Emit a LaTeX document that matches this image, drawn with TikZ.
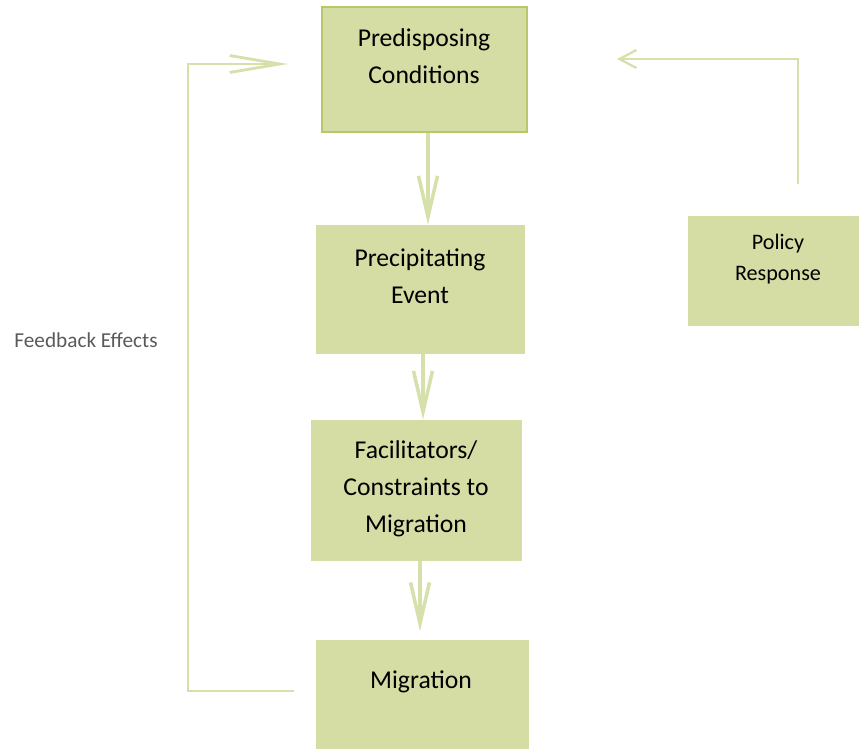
\documentclass[tikz,border=0pt]{standalone}
\usepackage{fontspec}
\setmainfont{Carlito}
\usepackage{tikz}
\usetikzlibrary{arrows.meta,positioning}
\usepackage{xcolor}
\definecolor{boxfill}{RGB}{213,220,164}
\definecolor{boxrim}{RGB}{182,200,104}
\definecolor{flowline}{RGB}{214,224,170}
\definecolor{notegray}{RGB}{90,90,90}

\begin{document}
\begin{tikzpicture}[x=0.02cm,y=-0.02cm,
    box/.style={fill=boxfill, inner sep=0pt},
    txt/.style={align=center, font=\fontsize{14.6}{21}\selectfont},
    flow/.style={flowline, line width=2pt, -{Straight Barb[length=0.82cm,width=0.38cm]}}]
    \useasboundingbox (0,0) rectangle (859,748);

    % boxes
    \node[box, draw=boxrim, line width=1.3pt, minimum width=4.1cm, minimum height=2.5cm] (predis) at (424.5,69.5) {};
    \node[box, minimum width=4.18cm, minimum height=2.58cm] (precip) at (420.5,289.5) {};
    \node[box, minimum width=4.22cm, minimum height=2.82cm] (facil) at (416.5,490.5) {};
    \node[box, minimum width=4.26cm, minimum height=2.3cm] (migr) at (422.5,697) {};
    \node[box, minimum width=3.42cm, minimum height=2.2cm] (policy) at (773.5,271) {};

    % texts
    \node[txt] (predisT) at (424,56) {Predisposing\\Conditions};
    \node[txt] (precipT) at (420,276) {Precipitating\\Event};
    \node[txt] (facilT) at (416,489) {Facilitators/\\Constraints to\\Migration};
    \node[txt] (migrT) at (421,682) {Migration};
    \node[align=center, font=\fontsize{12.6}{17.6}\selectfont] (policyT) at (778,259) {Policy\\Response};
    \node[notegray, font=\fontsize{12.1}{15}\selectfont] (fbT) at (86,340) {Feedback Effects};

    % corners of the loops
    \coordinate (fbA) at (294,691);
    \coordinate (fbB) at (188,691);
    \coordinate (fbC) at (188,64);
    \coordinate (fbD) at (288,64);
    \coordinate (polA) at (798,184);
    \coordinate (polB) at (798,59);
    \coordinate (polC) at (617,59);

    \draw[flow] (predis.south -| 428,0) -- (precip.north -| 428,0);
    \draw[flow] (precip.south -| 423,0) -- (facil.north -| 423,0);
    \draw[flow, shorten >=0.16cm] (facil.south -| 420,0) -- (migr.north -| 420,0);
    \draw[flowline, line width=1.6pt, -{Straight Barb[length=1cm,width=0.34cm]}] (fbA) -- (fbB) -- (fbC) -- (fbD);
    \draw[flowline, line width=1.3pt, -{Straight Barb[length=0.34cm,width=0.36cm]}] (polA) -- (polB) -- (polC);
\end{tikzpicture}
\end{document}
